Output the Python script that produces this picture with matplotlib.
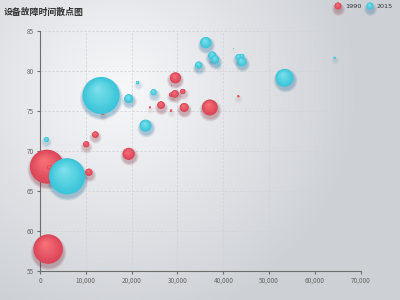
import numpy as np
import matplotlib.pyplot as plt
from matplotlib.ticker import FuncFormatter

plt.rcParams['font.family'] = ['Noto Sans CJK SC', 'DejaVu Sans']

title = '设备故障时间散点图'
series_names = ['1990', '2015']

# gdp per capita, life expectancy, population
gdp_1990 = [28604, 31163, 1516, 13670, 28599, 29476, 31476, 28666, 1777, 29550,
            2076, 12087, 24021, 43296, 10088, 19349, 10670, 26424, 37062]
life_1990 = [77, 77.4, 68, 74.7, 75, 77.1, 75.4, 78.1, 57.7, 79.1,
             67.9, 72, 75.4, 76.8, 70.8, 69.6, 67.3, 75.7, 75.4]
pop_1990 = [17096869, 27662440, 1154605773, 10582082, 4986705, 56943299, 78958237,
            254830, 870601776, 122249285, 20194354, 42972254, 3397534, 4240375,
            38195258, 147568552, 53994605, 57110117, 252847810]

gdp_2015 = [44056, 43294, 13334, 21291, 38923, 37599, 44053, 42182, 5903, 36162,
            1390, 34644, 34186, 64304, 24787, 23038, 19360, 38225, 53354]
life_2015 = [81.8, 81.7, 76.9, 78.5, 80.8, 81.9, 81.1, 82.8, 66.8, 83.5,
             71.4, 80.7, 80.6, 81.6, 77.3, 73.13, 76.5, 81.4, 79.1]
pop_2015 = [23968973, 35939927, 1376048943, 11389562, 5503457, 64395345, 80688545,
            329425, 1311050527, 126573481, 25155317, 50293439, 4528526, 5210967,
            38611794, 143456918, 78665830, 64715810, 321773631]

x_ticks = [0, 10000, 20000, 30000, 40000, 50000, 60000, 70000]
y_ticks = [55, 60, 65, 70, 75, 80, 85]

light_red, dark_red, shadow_red = (251, 118, 123), (204, 46, 72), (120, 36, 50)
light_blue, dark_blue, shadow_blue = (129, 227, 238), (25, 183, 207), (25, 100, 150)

W, H, DPI = 400, 300, 100
fig = plt.figure(figsize=(W / DPI, H / DPI), dpi=DPI)

# radial background gradient
bg = fig.add_axes([0, 0, 1, 1])
yy, xx = np.mgrid[0:H, 0:W]
t = np.clip(np.hypot(xx - 0.3 * W, yy - 0.3 * H) / (0.8 * H), 0, 1)[..., None]
c0 = np.array([247, 248, 250]) / 255
c1 = np.array([205, 208, 213]) / 255
bg.imshow(c0 + (c1 - c0) * t, extent=(0, W, H, 0), aspect='auto', zorder=0)
bg.set_xlim(0, W)
bg.set_ylim(H, 0)
bg.axis('off')

ax = fig.add_axes([0.1, 0.0977, 0.802, 0.8])
ax.patch.set_alpha(0)
ax.set_xlim(0, 70000)
ax.set_ylim(55, 85)

# data units per pixel
ux = 70000 / (0.802 * W)
uy = 30 / (0.8 * H)


def rgb(c):
    return np.array(c) / 255


def bubble(a, x, y, d, light, dark, shadow, ux, uy, n=14):
    # soft shadow below, weaker for tiny bubbles
    k_alpha = 0.07 * min(1.0, d / 8)
    for k in range(5):
        dd = d + 6 * (1 - k / 5)
        a.scatter([x], [y - 2.5 * uy], s=(dd * 0.72) ** 2, color=rgb(shadow),
                  alpha=k_alpha, linewidths=0, zorder=3, clip_on=False)
    s = np.linspace(0, 1, n, endpoint=False)
    cx = x - s * 0.1 * d * ux
    cy = y + s * 0.2 * d * uy
    sizes = (d * (1 - s) * 0.72) ** 2
    tt = 0.68 * (1 - s)
    cols = rgb(light)[None, :] + (rgb(dark) - rgb(light))[None, :] * tt[:, None]
    a.scatter(cx, cy, s=sizes, c=cols, linewidths=0, zorder=4, clip_on=False)


for gx, ly, pp, lc, dc, sc in [
        (gdp_1990, life_1990, pop_1990, light_red, dark_red, shadow_red),
        (gdp_2015, life_2015, pop_2015, light_blue, dark_blue, shadow_blue)]:
    for x, y, p in zip(gx, ly, pp):
        bubble(ax, x, y, np.sqrt(p) / 1000, lc, dc, sc, ux, uy)

ax.set_xticks(x_ticks)
ax.set_yticks(y_ticks)
ax.xaxis.set_major_formatter(FuncFormatter(lambda v, _: f'{int(v):,}'))
ax.grid(True, color='#d2d3d6', linestyle=(0, (2.6, 2.2)), linewidth=0.6)
ax.set_axisbelow(True)
for sp in ['top', 'right']:
    ax.spines[sp].set_visible(False)
for sp in ['left', 'bottom']:
    ax.spines[sp].set_color('#6e6e6e')
    ax.spines[sp].set_linewidth(0.8)
ax.tick_params(length=2.5, width=0.8, color='#6e6e6e', labelsize=4.6,
               labelcolor='#666666', pad=2)

fig.text(0.008, 0.975, title, fontsize=6.4, fontweight='bold', color='#333333',
         va='top', ha='left')

# legend
for lx, name, lc, dc, sc in [(338, series_names[0], light_red, dark_red, shadow_red),
                             (370, series_names[1], light_blue, dark_blue, shadow_blue)]:
    bubble(bg, lx, 6, 7, lc, dc, sc, 1, -1)
    bg.text(lx + 7, 6.5, name, fontsize=4.6, color='#333333', va='center', ha='left',
            family='DejaVu Sans')

fig.savefig('out.png', dpi=DPI)
